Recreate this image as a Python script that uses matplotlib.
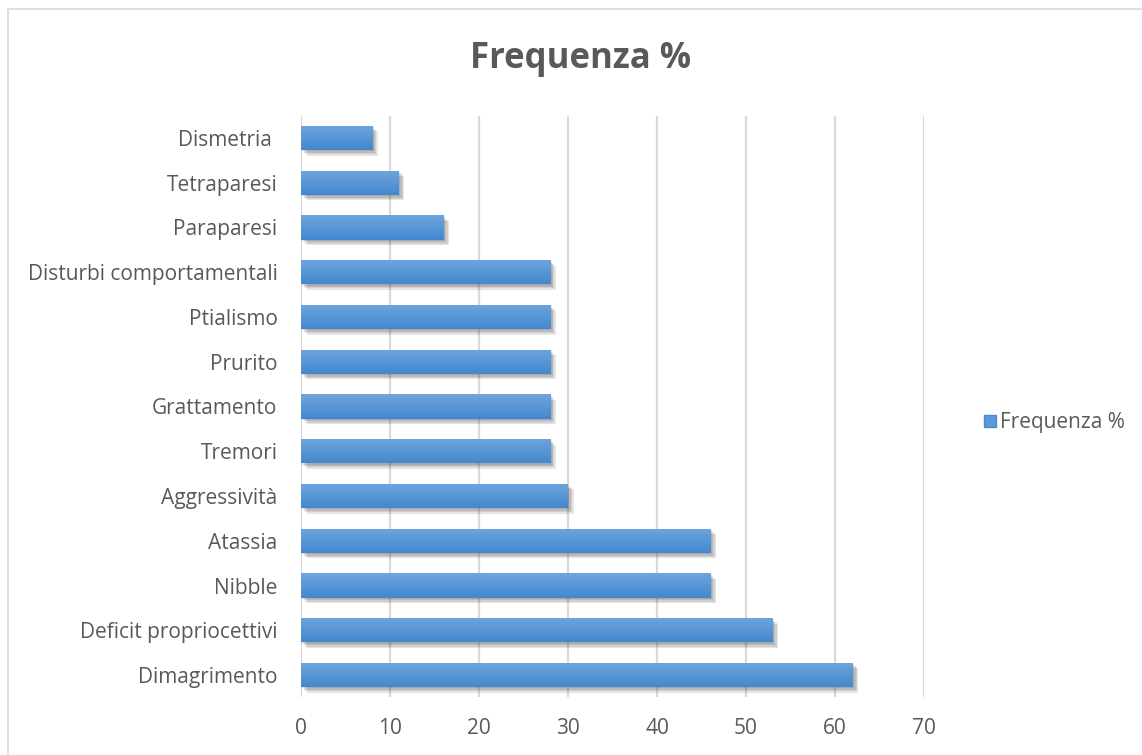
import numpy as np
import matplotlib.pyplot as plt
import matplotlib.patheffects as pe
from matplotlib.lines import Line2D
from matplotlib.patches import Rectangle
from matplotlib.colors import LinearSegmentedColormap

plt.rcParams['font.family'] = ['Open Sans', 'DejaVu Sans']

categories = ['Dimagrimento', 'Deficit propriocettivi', 'Nibble', 'Atassia',
              'Aggressività', 'Tremori', 'Grattamento', 'Prurito', 'Ptialismo',
              'Disturbi comportamentali', 'Paraparesi', 'Tetraparesi', 'Dismetria ']
frequenza = [62, 53, 46, 46, 30, 28, 28, 28, 28, 28, 16, 11, 8]

text_color = '#595959'
grid_color = '#d9d9d9'

fig = plt.figure(figsize=(11.42, 7.55), dpi=100)
ax = fig.add_axes([0.2636, 0.0763, 0.5455, 0.7706])

# soft drop shadow built from a few faint offset layers
shadow = [pe.SimplePatchShadow(offset=(d, -d), shadow_rgbFace='#303030', alpha=0.12)
          for d in (1.0, 2.0, 3.0, 4.0)]

y = np.arange(len(categories))
bars = ax.barh(y, frequenza, height=0.54, color='#5b9bd5', zorder=3,
               path_effects=shadow + [pe.Normal()])

# vertical gradient on each bar, lighter on top
grad = np.linspace(0, 1, 64).reshape(-1, 1)
cmap = LinearSegmentedColormap.from_list('bar', ['#4388cf', '#6fa5dd'])
for b in bars:
    x0, y0 = b.get_x(), b.get_y()
    im = ax.imshow(grad, cmap=cmap, aspect='auto', origin='lower',
                   extent=(x0, x0 + b.get_width(), y0, y0 + b.get_height()), zorder=4)
    im.set_clip_path(b)

ax.set_xlim(0, 70)
ax.set_ylim(-0.5, len(categories) - 0.5)
ax.set_xticks(range(0, 71, 10))
ax.set_yticks(y)
ax.set_yticklabels(categories)
ax.xaxis.grid(True, color=grid_color, linewidth=1.6, zorder=0)
ax.set_axisbelow(True)
for s in ax.spines.values():
    s.set_visible(False)
ax.tick_params(axis='both', length=0, labelsize=15, labelcolor=text_color)
ax.tick_params(axis='x', pad=15)
ax.tick_params(axis='y', pad=17)

fig.text(0.508, 0.922, 'Frequenza %', ha='center', va='center',
         fontsize=25, fontweight='bold', color=text_color)

handle = Line2D([], [], marker='s', linestyle='none', markersize=9,
                markerfacecolor='#5b9bd5', markeredgecolor='#4a8bd0')
fig.legend([handle], ['Frequenza %'], loc='center left', bbox_to_anchor=(0.852, 0.44),
           frameon=False, fontsize=15, labelcolor=text_color,
           handletextpad=0.1, borderaxespad=0, handlelength=0.8)

# chart frame
fig.add_artist(Rectangle((8 / 1142, -0.05), 1.2, 1 - 9 / 755 + 0.05, transform=fig.transFigure,
                         fill=False, edgecolor='#d9d9d9', linewidth=1.2))

fig.savefig('out.png', dpi=100)
